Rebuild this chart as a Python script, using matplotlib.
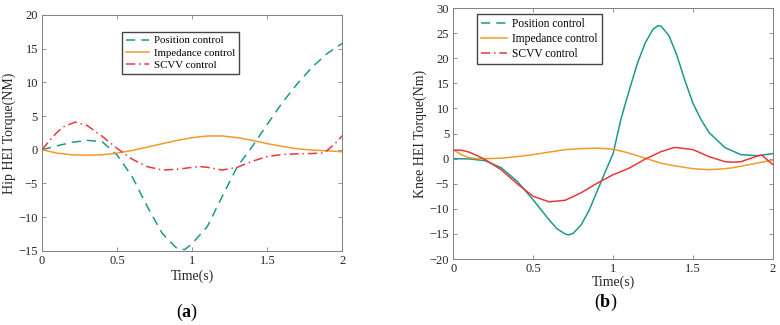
import matplotlib.pyplot as plt
from matplotlib.lines import Line2D

plt.rcParams['font.family'] = ['Liberation Serif', 'DejaVu Serif']
plt.rcParams['mathtext.fontset'] = 'custom'
plt.rcParams['mathtext.rm'] = 'Liberation Serif'
plt.rcParams['mathtext.bf'] = 'Liberation Serif:bold'

# (a) Hip HEI torque
hip_t = [0, 0.1, 0.2, 0.3, 0.4, 0.5, 0.6, 0.7, 0.8, 0.9, 0.95, 1.0, 1.1, 1.2,
         1.3, 1.4, 1.5, 1.6, 1.7, 1.8, 1.9, 2.0]
hip_position = [0, 0.6, 1.1, 1.4, 1.2, -0.8, -4.0, -8.4, -12.4, -14.7, -14.8, -13.9,
                -11.4, -6.9, -2.5, 0.5, 3.8, 7.0, 9.8, 12.3, 14.3, 15.8]
hip_impedance = [0, -0.5, -0.75, -0.8, -0.75, -0.5, -0.1, 0.4, 0.9, 1.4, 1.6, 1.8,
                 2.05, 2.05, 1.8, 1.4, 0.9, 0.5, 0.15, -0.05, -0.15, -0.3]
scvv_hip_t = [0, 0.05, 0.1, 0.15, 0.22, 0.3, 0.4, 0.5, 0.6, 0.7, 0.8, 0.9, 1.0, 1.05,
              1.1, 1.2, 1.3, 1.4, 1.5, 1.6, 1.7, 1.8, 1.88, 1.95, 2.0]
hip_scvv = [0, 1.4, 2.6, 3.5, 4.1, 3.6, 2.0, 0.2, -1.4, -2.5, -3.0, -2.9, -2.6, -2.5,
            -2.6, -3.0, -2.6, -1.7, -1.0, -0.7, -0.6, -0.55, -0.45, 0.9, 2.1]

# (b) Knee HEI torque
knee_t = [0, 0.1, 0.2, 0.3, 0.4, 0.5, 0.6, 0.65, 0.7, 0.72, 0.75, 0.8, 0.85, 0.9, 0.95,
          1.0, 1.05, 1.1, 1.15, 1.2, 1.25, 1.28, 1.3, 1.35, 1.4, 1.45, 1.5, 1.55,
          1.6, 1.7, 1.8, 1.9, 2.0]
knee_position = [0, -0.05, -0.4, -1.8, -4.5, -8.2, -12.2, -14.0, -15.0, -15.2, -14.9,
                 -13.2, -10.3, -6.5, -2.7, 1.0, 8.0, 13.5, 18.8, 23.0, 25.8, 26.5, 26.4,
                 24.5, 20.5, 15.5, 11.0, 7.8, 5.2, 2.2, 0.8, 0.6, 1.0]
knee_t2 = [0, 0.05, 0.1, 0.15, 0.2, 0.3, 0.4, 0.5, 0.6, 0.7, 0.8, 0.9, 1.0, 1.1, 1.2,
           1.3, 1.38, 1.4, 1.5, 1.6, 1.7, 1.75, 1.8, 1.9, 1.93, 2.0]
knee_impedance = [1.8, 0.8, 0.2, 0.0, 0.0, 0.1, 0.4, 0.8, 1.3, 1.8, 2.0, 2.1, 1.9, 1.1,
                  0.1, -0.9, -1.4, -1.5, -2.0, -2.2, -2.0, -1.8, -1.5, -0.9, -0.7, -0.3]
knee_scvv = [1.7, 1.7, 1.3, 0.6, -0.2, -2.2, -5.0, -7.5, -8.6, -8.3, -6.8, -4.9, -3.2,
             -1.9, -0.1, 1.4, 2.2, 2.2, 1.8, 0.4, -0.6, -0.7, -0.6, 0.5, 0.7, -1.2]

teal = '#1a9a8c'
orange = '#f39a2a'
red = '#e8383d'
labels = ['Position control', 'Impedance control', 'SCVV control']
dash = (0, (6, 4))
dashdot = (0, (6, 2.5, 1, 2.5))

fig = plt.figure(figsize=(7.8, 3.25), dpi=100)
ax1 = fig.add_axes([0.054, 0.228, 0.385, 0.726])
ax2 = fig.add_axes([0.581, 0.203, 0.410, 0.772])

ax1.plot(hip_t, hip_position, color=teal, linestyle=dash, lw=1.1, label=labels[0])
ax1.plot(hip_t, hip_impedance, color=orange, linestyle='-', lw=1.1, label=labels[1])
ax1.plot(scvv_hip_t, hip_scvv, color=red, linestyle=dashdot, lw=1.1, label=labels[2])
ax1.set_ylim(-15, 20)
ax1.set_yticks(range(-15, 21, 5))
ax1.set_ylabel('Hip HEI Torque(NM)', fontsize=10, labelpad=2, color='#262626')
ax1.set_xlabel('Time(s)', fontsize=10, labelpad=2, color='#262626')
ax1.legend(loc='upper left', bbox_to_anchor=(0.267, 0.928), borderaxespad=0,
           fontsize=7.8, frameon=True, fancybox=False, edgecolor='#444444',
           framealpha=1, handlelength=2.1, borderpad=0.35, labelspacing=0.25,
           handletextpad=0.5)

ax2.plot(knee_t, knee_position, color=teal, lw=1.1)
ax2.plot(knee_t2, knee_impedance, color=orange, lw=1.1)
ax2.plot(knee_t2, knee_scvv, color=red, lw=1.1)
ax2.set_ylim(-20, 30)
ax2.set_yticks(range(-20, 31, 5))
ax2.set_ylabel('Knee HEI Torque(Nm)', fontsize=10, labelpad=2, color='#262626')
ax2.set_xlabel('Time(s)', fontsize=10, labelpad=0, color='#262626')
handles = [Line2D([], [], color=teal, linestyle=dash, lw=1.1),
           Line2D([], [], color=orange, lw=1.1),
           Line2D([], [], color=red, linestyle=dashdot, lw=1.1)]
ax2.legend(handles, labels, loc='upper left', bbox_to_anchor=(0.075, 0.976),
           borderaxespad=0, fontsize=8.3, frameon=True, fancybox=False,
           edgecolor='#444444', framealpha=1, handlelength=2.2, borderpad=0.35,
           labelspacing=0.25, handletextpad=0.5)

for ax in (ax1, ax2):
    ax.set_xlim(0, 2)
    ax.set_xticks([0, 0.5, 1, 1.5, 2])
    ax.set_xticklabels(['0', '0.5', '1', '1.5', '2'])
    ax.tick_params(direction='in', top=True, right=True, labelsize=9, length=3,
                   width=0.6, color='#808080', labelcolor='#262626', pad=3)
    for s in ax.spines.values():
        s.set_linewidth(0.7)
        s.set_color('#808080')

fig.text(0.24, 0.04, r'($\mathbf{a}$)', ha='center', va='center', fontsize=13)
fig.text(0.776, 0.07, r'($\mathbf{b}$)', ha='center', va='center', fontsize=13)

fig.savefig('out.png', dpi=100)
